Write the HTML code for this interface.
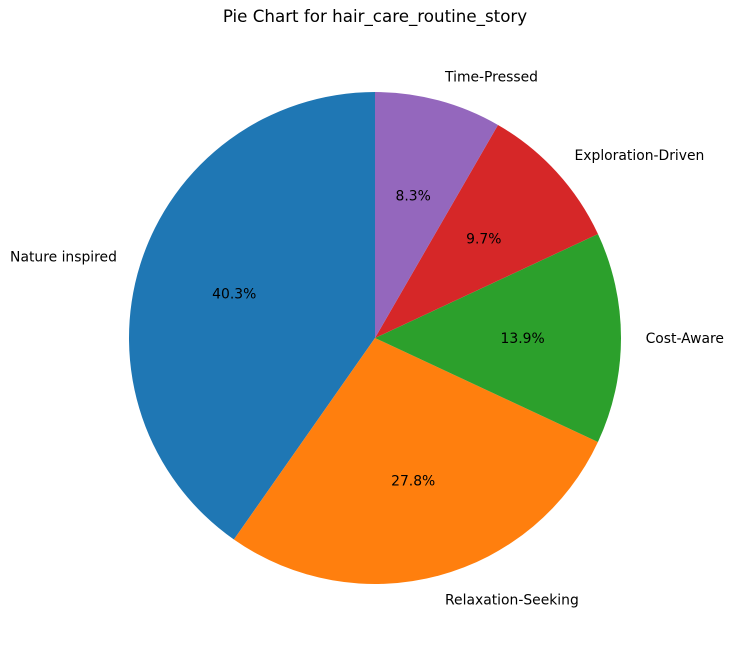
<!DOCTYPE html>
<html><head><meta charset="utf-8"><style>
body{margin:0;background:#fff;}
svg text{font-family:"DejaVu Sans","Liberation Sans",sans-serif;font-size:13.9px;fill:#000;}
</style></head><body>
<svg width="735" height="656">
<text x="375" y="22" text-anchor="middle" style="font-size:16.7px">Pie Chart for hair_care_routine_story</text>
<g id="pie"></g>
</svg>
<script>
const categories=["Nature inspired","Relaxation-Seeking","Cost-Aware","Exploration-Driven","Time-Pressed"];
const values=[29,20,10,7,6];
const colors=["#1f77b4","#ff7f0e","#2ca02c","#d62728","#9467bd"];
const cx=375,cy=338,R=246;
const g=document.getElementById('pie');
const ns="http://www.w3.org/2000/svg";
const total=values.reduce((a,b)=>a+b,0);
let a0=90;
function pt(deg,r){const t=deg*Math.PI/180;return [cx+r*Math.cos(t),cy-r*Math.sin(t)];}
values.forEach((v,i)=>{
  const sweep=v/total*360,a1=a0+sweep;
  const p0=pt(a0,R),p1=pt(a1,R);
  const path=document.createElementNS(ns,'path');
  path.setAttribute('d',`M${cx},${cy} L${p0[0]},${p0[1]} A${R},${R} 0 ${sweep>180?1:0} 0 ${p1[0]},${p1[1]} Z`);
  path.setAttribute('fill',colors[i]);
  
  
  g.appendChild(path);
  const mid=(a0+a1)/2;
  const lp=pt(mid,R*1.1);
  const lt=document.createElementNS(ns,'text');
  lt.setAttribute('x',lp[0]);lt.setAttribute('y',lp[1]+5);
  lt.setAttribute('text-anchor',Math.cos(mid*Math.PI/180)>=0?'start':'end');
  lt.textContent=categories[i];
  
  
  g.appendChild(lt);
  const pp=pt(mid,R*0.6);
  const pt2=document.createElementNS(ns,'text');
  pt2.setAttribute('x',pp[0]);pt2.setAttribute('y',pp[1]+5);
  pt2.setAttribute('text-anchor','middle');
  pt2.textContent=(v/total*100).toFixed(1)+'%';
  
  
  g.appendChild(pt2);
  a0=a1;
});
</script>
</body></html>
